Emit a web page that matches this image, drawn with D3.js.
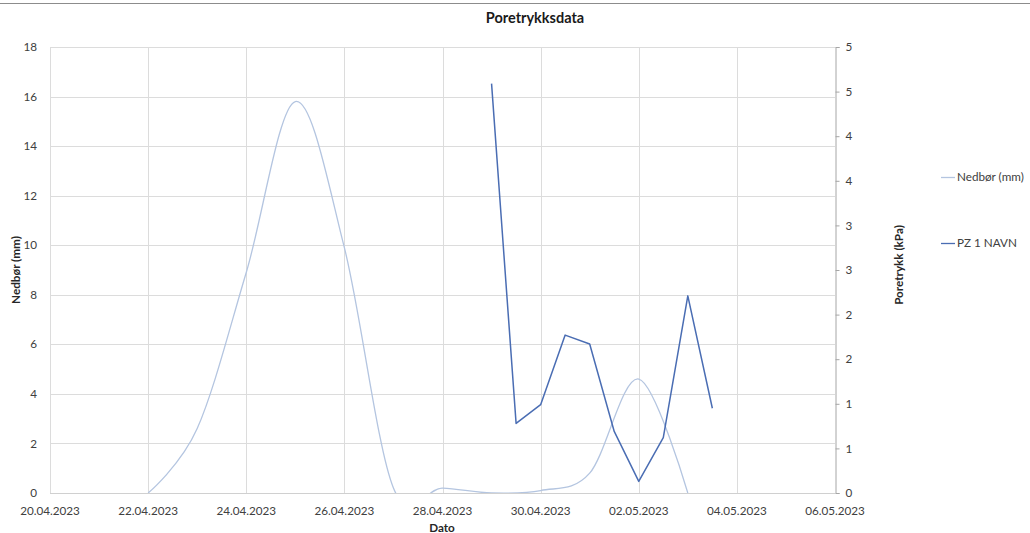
<!DOCTYPE html>
<html>
<head>
<meta charset="utf-8">
<script src="https://cdn.jsdelivr.net/npm/d3@7"></script>
<style>
  html, body { margin: 0; padding: 0; background: #fff; }
  svg { display: block; font-family: Lato, "Open Sans", sans-serif; }
</style>
</head>
<body>
<svg id="chart" width="1030" height="533"></svg>
<script>
// Precipitation (daily, mm)
const rainDates = ["2023-04-22", "2023-04-23", "2023-04-24", "2023-04-25", "2023-04-26", "2023-04-27",
                   "2023-04-28", "2023-04-29", "2023-04-30", "2023-05-01", "2023-05-02", "2023-05-03"];
const rainMm = [0, 2.6, 8.9, 15.8, 9.9, 0.2, 0.2, 0, 0.1, 0.8, 4.6, 0];

// Pore pressure, piezometer PZ 1 (every 12 hours, kPa)
const pzTimes = ["2023-04-29T00:00", "2023-04-29T12:00", "2023-04-30T00:00", "2023-04-30T12:00",
                 "2023-05-01T00:00", "2023-05-01T12:00", "2023-05-02T00:00", "2023-05-02T12:00",
                 "2023-05-03T00:00", "2023-05-03T12:00"];
const pzKPa = [4.59, 0.78, 0.99, 1.77, 1.67, 0.69, 0.13, 0.62, 2.21, 0.95];

// Axes
const xDomain = ["2023-04-20", "2023-05-06"];
const xTickDates = ["2023-04-20", "2023-04-22", "2023-04-24", "2023-04-26", "2023-04-28",
                    "2023-04-30", "2023-05-02", "2023-05-04", "2023-05-06"];
const leftTicks = [0, 2, 4, 6, 8, 10, 12, 14, 16, 18];
const rightTicks = [0, 0.5, 1, 1.5, 2, 2.5, 3, 3.5, 4, 4.5, 5];

const titleText = "Poretrykksdata";
const xTitle = "Dato";
const leftTitle = "Nedbør (mm)";
const rightTitle = "Poretrykk (kPa)";
const seriesNames = ["Nedbør (mm)", "PZ 1 NAVN"];

const parse = s => new Date(s.length > 10 ? s + ":00Z" : s + "T00:00:00Z");

const svg = d3.select("#chart");
const W = 1030, H = 533;
const m = { left: 50, right: 835, top: 47, bottom: 493 };

const x = d3.scaleUtc().domain(xDomain.map(parse)).range([m.left, m.right]);
const yL = d3.scaleLinear().domain([0, 18]).range([m.bottom, m.top]);
const yR = d3.scaleLinear().domain([0, 5]).range([m.bottom, m.top]);

const rainColor = "#b4c5e0";
const pzColor = "#4a6db3";
const textColor = "#404040";

// chart area border (top edge)
svg.append("line")
  .attr("x1", 0).attr("x2", W).attr("y1", 3.5).attr("y2", 3.5)
  .attr("stroke", "#8c8c8c").attr("stroke-width", 1.2);

// gridlines
const grid = svg.append("g");
grid.selectAll("line.h").data(leftTicks).join("line")
  .attr("x1", m.left).attr("x2", m.right)
  .attr("y1", d => Math.round(yL(d)) + 0.5).attr("y2", d => Math.round(yL(d)) + 0.5)
  .attr("stroke", "#dcdcdc").attr("stroke-width", 1);
grid.selectAll("line.v").data(xTickDates.slice(0, -1)).join("line")
  .attr("x1", d => Math.round(x(parse(d))) + 0.5).attr("x2", d => Math.round(x(parse(d))) + 0.5)
  .attr("y1", m.top).attr("y2", m.bottom)
  .attr("stroke", "#dcdcdc").attr("stroke-width", 1);

// bottom axis line
svg.append("line")
  .attr("x1", m.left).attr("x2", m.right)
  .attr("y1", m.bottom + 0.5).attr("y2", m.bottom + 0.5)
  .attr("stroke", "#d0d0d0");

// left tick labels
svg.append("g").selectAll("text").data(leftTicks).join("text")
  .attr("x", 37).attr("y", d => yL(d))
  .attr("dy", "0.35em").attr("text-anchor", "end")
  .attr("font-size", 11.7).attr("fill", textColor)
  .text(d => d);

// x tick labels
const fmtDate = d3.utcFormat("%d.%m.%Y");
svg.append("g").selectAll("text").data(xTickDates).join("text")
  .attr("x", d => x(parse(d))).attr("y", 511)
  .attr("dy", "0.35em").attr("text-anchor", "middle")
  .attr("font-size", 11.7).attr("fill", textColor)
  .text(d => fmtDate(parse(d)));

// right axis
const rAxis = svg.append("g").attr("transform", `translate(${m.right + 0.5},0)`)
  .call(d3.axisRight(yR).tickValues(rightTicks).tickFormat(d3.format(".0f")).tickSize(4).tickPadding(6));
rAxis.select(".domain").attr("stroke", "#a6a6a6");
rAxis.selectAll(".tick line").attr("stroke", "#a6a6a6");
rAxis.selectAll(".tick text")
  .attr("font-size", 11.7).attr("fill", textColor)
  .attr("font-family", "Lato, 'Open Sans', sans-serif");

// plot clip
svg.append("clipPath").attr("id", "plotClip").append("rect")
  .attr("x", m.left).attr("y", m.top - 2)
  .attr("width", m.right - m.left).attr("height", m.bottom - m.top + 2);

// precipitation, smoothed line
const rainData = rainDates.map((d, i) => ({ t: parse(d), v: rainMm[i] }));
svg.append("path").datum(rainData)
  .attr("clip-path", "url(#plotClip)")
  .attr("fill", "none").attr("stroke", rainColor).attr("stroke-width", 1.3)
  .attr("d", d3.line().x(d => x(d.t)).y(d => yL(d.v)).curve(d3.curveCardinal.tension(0)));

// pore pressure, straight segments
const pzData = pzTimes.map((d, i) => ({ t: parse(d), v: pzKPa[i] }));
svg.append("path").datum(pzData)
  .attr("fill", "none").attr("stroke", pzColor).attr("stroke-width", 1.5)
  .attr("stroke-linejoin", "round")
  .attr("d", d3.line().x(d => x(d.t)).y(d => yR(d.v)));

// titles
svg.append("text").attr("x", 535).attr("y", 18).attr("dy", "0.35em")
  .attr("text-anchor", "middle").attr("font-size", 14.5).attr("font-weight", "bold")
  .attr("fill", "#1a1a1a").text(titleText);
svg.append("text").attr("x", 442).attr("y", 528).attr("dy", "0.35em")
  .attr("text-anchor", "middle").attr("font-size", 11.7).attr("font-weight", "bold")
  .attr("fill", "#262626").text(xTitle);
svg.append("text").attr("transform", "translate(16,270) rotate(-90)")
  .attr("dy", "0.35em").attr("text-anchor", "middle")
  .attr("font-size", 11.7).attr("font-weight", "bold")
  .attr("fill", "#262626").text(leftTitle);
svg.append("text").attr("transform", "translate(899,265) rotate(-90)")
  .attr("dy", "0.35em").attr("text-anchor", "middle")
  .attr("font-size", 11.7).attr("font-weight", "bold")
  .attr("fill", "#262626").text(rightTitle);

// legend
const legendY = [177, 243];
const legendColors = [rainColor, pzColor];
const lg = svg.append("g");
seriesNames.forEach((name, i) => {
  lg.append("line").attr("x1", 941).attr("x2", 955)
    .attr("y1", legendY[i] + 0.5).attr("y2", legendY[i] + 0.5)
    .attr("stroke", legendColors[i]).attr("stroke-width", 1.3);
  lg.append("text").attr("x", 957).attr("y", legendY[i]).attr("dy", "0.35em")
    .attr("font-size", 11.7).attr("fill", textColor).text(name);
});
</script>
</body>
</html>
